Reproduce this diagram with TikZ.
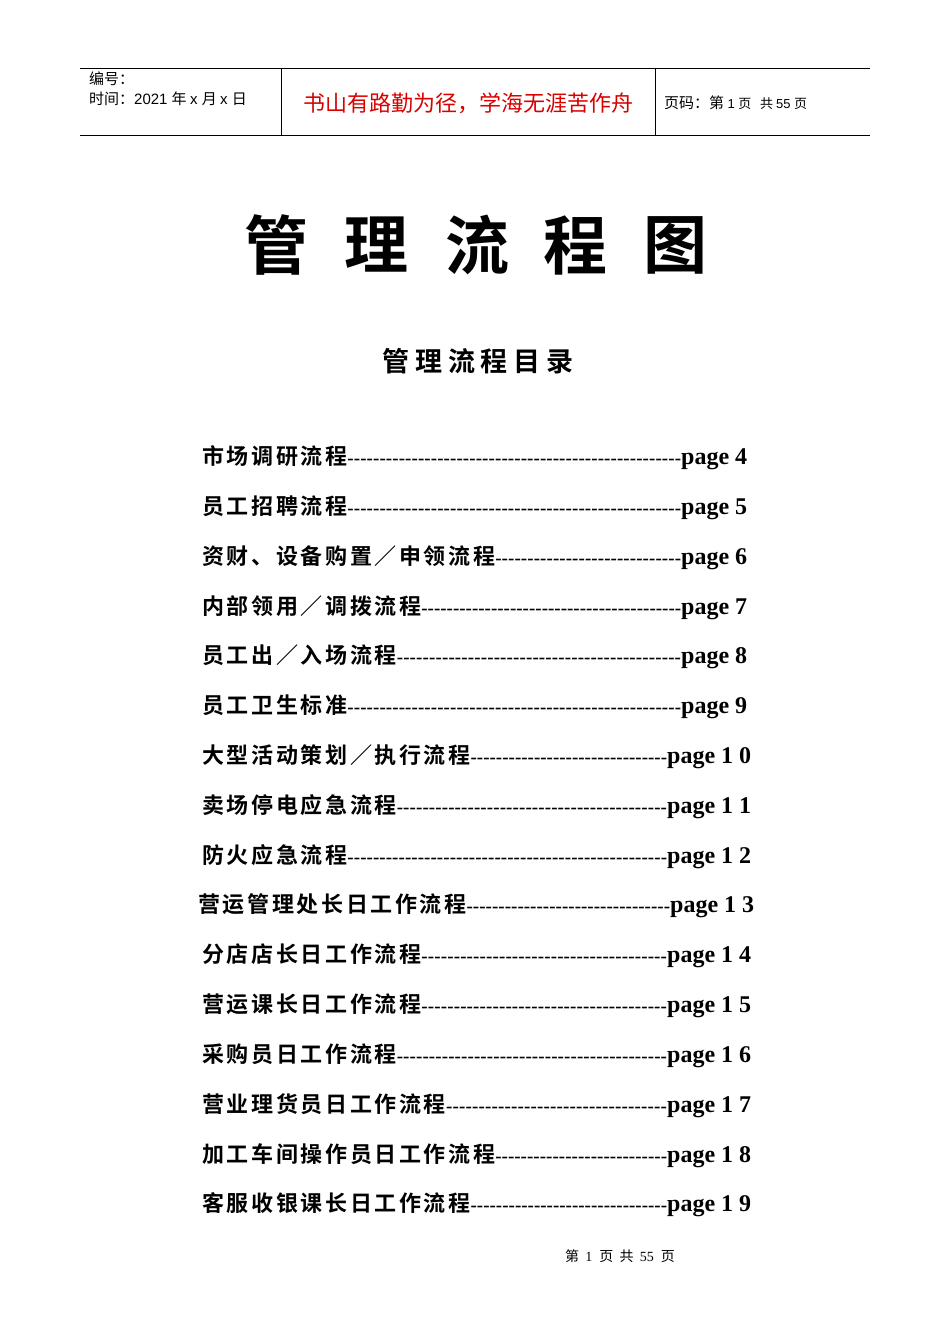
\documentclass[tikz,border=0pt]{standalone}
\usepackage{fontspec}
\setmainfont{Liberation Serif}
\newfontfamily\cjk{Noto Sans CJK SC}
\newfontfamily\cjkb{Noto Sans CJK SC Bold}
\newfontfamily\cjkw{Noto Sans CJK SC Bold}[LetterSpace=12]
\newfontfamily\cjks{Noto Sans CJK SC Bold}[LetterSpace=22]
\newfontfamily\hdr{Liberation Sans}
\begin{document}
\begin{tikzpicture}[x=1pt,y=-1pt,
  hd/.style={anchor=west,inner sep=0,font=\fontsize{15}{17}\selectfont},
  entry/.style={anchor=west,inner sep=0}]
\useasboundingbox (0,0) rectangle (950,1344);
\fill[white] (0,0) rectangle (950,1344);
\draw[line width=0.8] (80,68) -- (870,68);
\draw[line width=0.8] (80,135.5) -- (870,135.5);
\draw[line width=0.8] (281,68) -- (281,135.5);
\draw[line width=0.8] (655,68) -- (655,135.5);
\node[hd] (h1) at (89,79) {\cjk 编号：};
\node[hd] (h2) at (89,99) {\cjk 时间：\hdr 2021 \cjk 年 \hdr x \cjk 月 \hdr x \cjk 日};
\node[anchor=center,inner sep=0,text=red!85!black,font=\fontsize{22}{24}\selectfont\cjk] (slogan) at (468,103) {书山有路勤为径，学海无涯苦作舟};
\node[hd] (h3) at (664,103) {\cjk 页码：第\ \hdr\fontsize{13}{15}\selectfont 1\ \cjk 页\ \ \ 共\ \hdr\fontsize{13}{15}\selectfont 55\ \cjk 页};
\foreach \c/\x in {管/276,理/376,流/477,程/575,图/675}
  \node[inner sep=0,font=\fontsize{64}{66}\selectfont\cjkb] (t\x) at (\x,245) {\c};
\node[inner sep=0,font=\fontsize{27}{29}\selectfont\cjks] (sub) at (478,361) {管理流程目录};
\foreach \i/\t/\p/\w in {
 0/市场调研流程/page 4/545,
 1/员工招聘流程/page 5/545,
 2/资财、设备购置／申领流程/page 6/545,
 3/内部领用／调拨流程/page 7/545,
 4/员工出／入场流程/page 8/545,
 5/员工卫生标准/page 9/545,
 6/大型活动策划／执行流程/page 1 0/549,
 7/卖场停电应急流程/page 1 1/549,
 8/防火应急流程/page 1 2/549,
 9/营运管理处长日工作流程/page 1 3/556,
 10/分店店长日工作流程/page 1 4/549,
 11/营运课长日工作流程/page 1 5/549,
 12/采购员日工作流程/page 1 6/549,
 13/营业理货员日工作流程/page 1 7/549,
 14/加工车间操作员日工作流程/page 1 8/549,
 15/客服收银课长日工作流程/page 1 9/549}
{
 \pgfmathsetmacro\yy{458+49.8*\i}
 \pgfmathsetmacro\xx{\i==9 ? 198 : 202}
 \node[entry] (e\i) at (\xx,\yy) {\makebox[\w pt][l]{\fontsize{22}{24}\selectfont\cjkw\t\unskip\bfseries\rmfamily\fontsize{19}{21}\selectfont\xleaders\hbox{-}\hfill\fontsize{24}{26}\selectfont\p}};
}
\node[inner sep=0,font=\fontsize{14}{16}\selectfont] (foot) at (620,1256) {\cjk 第\ \ \rmfamily 1\ \ \cjk 页\ \ 共\ \ \rmfamily 55\ \ \cjk 页};
\end{tikzpicture}
\end{document}
